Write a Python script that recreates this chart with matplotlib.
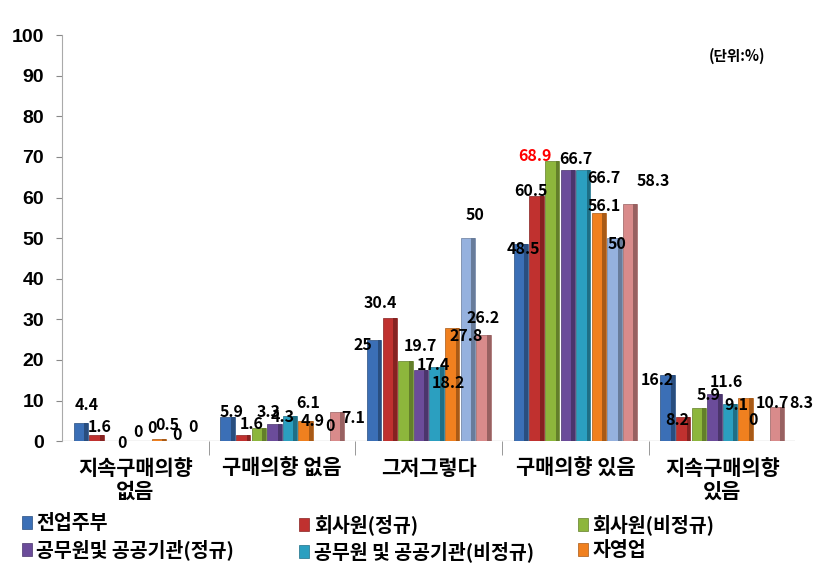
import numpy as np
import matplotlib
matplotlib.use('Agg')
import matplotlib.pyplot as plt
from matplotlib.colors import to_rgb

plt.rcParams['font.family'] = ['Noto Sans CJK KR', 'DejaVu Sans']
plt.rcParams['font.weight'] = 'bold'

categories = ['지속구매의향\n없음', '구매의향 없음', '그저그렇다', '구매의향 있음', '지속구매의향\n있음']
series_names = ['전업주부', '회사원(정규)', '회사원(비정규)', '공무원및 공공기관(정규)',
                '공무원 및 공공기관(비정규)', '자영업', '기타1', '기타2']
housewife = [4.4, 5.9, 25, 48.5, 16.2]
office_reg = [1.6, 1.6, 30.4, 60.5, 5.9]
office_irr = [0, 3.3, 19.7, 68.9, 8.2]
public_reg = [0, 4.3, 17.4, 66.7, 11.6]
public_irr = [0, 6.1, 18.2, 66.7, 9.1]
self_emp = [0.5, 4.9, 27.8, 56.1, 10.7]
other1 = [0, 0, 50, 50, 0]
other2 = [0, 7.1, 26.2, 58.3, 8.3]
series = [housewife, office_reg, office_irr, public_reg, public_irr, self_emp, other1, other2]
colors = ['#3b6fb6', '#c0312f', '#8db63c', '#6b4c9a', '#2b9fc0', '#f0801f', '#95b1de', '#d98b8b']

# label offsets in pixels (dx, dy) from the bar top, per series, per category
label_off = [
    [(6, 18), (4, 5), (-11, -5), (2, -5), (-10, -5)],
    [(3, 8), (8, 11), (-9, 15), (-6, 5), (25, 22)],
    [(10, -2), (10, 16), (15, 15), (-17, 5), (-22, -12)],
    [(10, 9), (8, 7), (12, 5), (8, 11), (12, 12)],
    [(9, 13), (18, 13), (12, -16), (21, -8), (6, -1)],
    [(8, 14), (7, 0), (14, -8), (5, 7), (27, -5)],
    [(3, 6), (9, 15), (7, 23), (3, -6), (-8, 21)],
    [(3, 14), (16, -6), (0, 17), (23, 23), (25, 4)],
]

fig = plt.figure(figsize=(8.4, 5.67), dpi=100)
ax = fig.add_axes([0.074, 0.222, 0.873, 0.716])

x = np.arange(len(categories))
n = len(series)
w = 0.85 / n
for i, vals in enumerate(series):
    pos = x - 0.425 + w * (i + 0.5)
    dark = tuple(c * 0.7 for c in to_rgb(colors[i]))
    ax.bar(pos, vals, width=w * 0.92, color=colors[i], edgecolor=dark,
           linewidth=0.5, zorder=3, label=series_names[i])
    # darker side face for a bit of depth
    ax.bar(pos + w * 0.34, vals, width=w * 0.24, color=dark, linewidth=0, zorder=4)
    for j, (p, v) in enumerate(zip(pos, vals)):
        c = 'red' if v == 68.9 else 'black'
        dx, dy = label_off[i][j]
        ax.annotate('{:g}'.format(v), (p, v), xytext=(dx, dy), textcoords='offset pixels',
                    ha='center', va='center', fontsize=11.5, fontweight='bold',
                    color=c, zorder=6)

# floor slab
ax.axhspan(-1.3, 0, color='#c8c8c8', zorder=2)

ax.set_xlim(-0.5, len(categories) - 0.5)
ax.set_ylim(0, 100)
ax.set_yticks(range(0, 101, 10))
ax.tick_params(axis='y', labelsize=14, length=4, pad=9, color='#888888')
ax.set_xticks(x)
ax.set_xticklabels(categories, fontsize=15, fontweight='bold', linespacing=1.1)
ax.set_xticks(np.arange(len(categories) - 1) + 0.5, minor=True)
ax.tick_params(axis='x', which='major', length=0, pad=12)
ax.tick_params(axis='x', which='minor', length=10, color='#888888')
for lab in ax.get_yticklabels():
    lab.set_fontweight('bold')
    lab.set_family(['Liberation Sans', 'DejaVu Sans'])
for s in ['top', 'right', 'bottom']:
    ax.spines[s].set_visible(False)
ax.spines['left'].set_color('#aaaaaa')

ax.text(0.92, 0.95, '(단위:%)', transform=ax.transAxes, ha='center', va='center',
        fontsize=10.5, fontweight='bold')

handles, labels = ax.get_legend_handles_labels()
col_x = [0.026, 0.356, 0.688]
for k in range(3):
    leg = fig.legend([handles[k], handles[k + 3]], [labels[k], labels[k + 3]],
                     loc='upper left', bbox_to_anchor=(col_x[k], 0.093),
                     frameon=False, fontsize=14, handlelength=0.5, handleheight=0.65,
                     handletextpad=0.25, labelspacing=0.3, borderpad=0,
                     borderaxespad=0)

fig.savefig('out.png', dpi=100)
